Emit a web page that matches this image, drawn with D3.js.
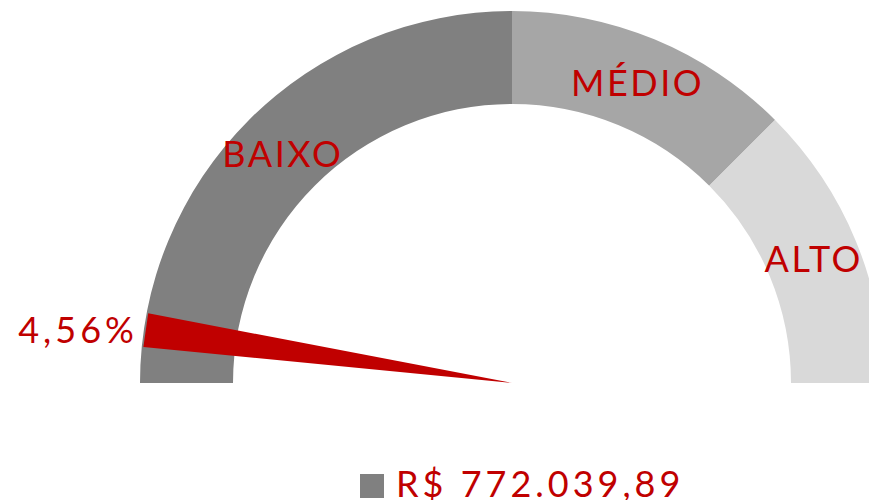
<!DOCTYPE html>
<html><head><meta charset="utf-8">
<script src="https://cdn.jsdelivr.net/npm/d3@7"></script>
<style>html,body{margin:0;padding:0;background:#fff;overflow:hidden}</style>
</head><body><svg id="c" width="869" height="500"></svg>
<script>
const bandLabels = ["BAIXO", "MÉDIO", "ALTO"];
const bandStarts = [0, 50, 75];
const bandEnds = [50, 75, 100];
const bandColors = ["#808080", "#a6a6a6", "#d9d9d9"];
const gaugeValue = 4.56;
const valueLabel = "4,56%";
const legendLabel = "R$ 772.039,89";

const svg = d3.select("#c");
const cx = 512, cy = 383, R = 372, r = 279;
const red = "#c00000";
const font = "Lato, 'Open Sans', sans-serif";
const ang = d3.scaleLinear().domain([0, 100]).range([-Math.PI/2, Math.PI/2]);
const g = svg.append("g").attr("transform", `translate(${cx},${cy})`);
const arc = d3.arc().innerRadius(r).outerRadius(R);

bandLabels.forEach((lab, i) => {
  g.append("path")
    .attr("d", arc({startAngle: ang(bandStarts[i]), endAngle: ang(bandEnds[i])}))
    .attr("fill", bandColors[i]);
  const mid = ang((bandStarts[i] + bandEnds[i]) / 2);
  const mr = (r + R) / 2;
  g.append("text")
    .attr("x", mr * Math.sin(mid) + 1).attr("y", -mr * Math.cos(mid))
    .attr("text-anchor", "middle").attr("dominant-baseline", "central")
    .attr("font-family", font).attr("font-size", 36).attr("fill", red)
    .attr("letter-spacing", 2.5)
    .text(lab);
});

// needle
const a = ang(gaugeValue);
const ux = Math.sin(a), uy = -Math.cos(a);
const px = -uy, py = ux;
const L = 370, hw = 17;
g.append("path")
  .attr("d", d3.line()([[0, 0], [L*ux + hw*px, L*uy + hw*py], [L*ux - hw*px, L*uy - hw*py]]) + "Z")
  .attr("fill", red);

g.append("text")
  .attr("x", (L + 8) * ux).attr("y", (L + 8) * uy)
  .attr("text-anchor", "end").attr("dominant-baseline", "central")
  .attr("font-family", font).attr("font-size", 36).attr("fill", red)
  .attr("letter-spacing", 4)
  .text(valueLabel);

// legend
svg.append("rect").attr("x", 360).attr("y", 474).attr("width", 24).attr("height", 24).attr("fill", "#808080");
svg.append("text").attr("x", 396).attr("y", 497)
  .attr("font-family", font).attr("font-size", 36).attr("fill", red)
  .attr("letter-spacing", 4)
  .text(legendLabel);
</script></body></html>
